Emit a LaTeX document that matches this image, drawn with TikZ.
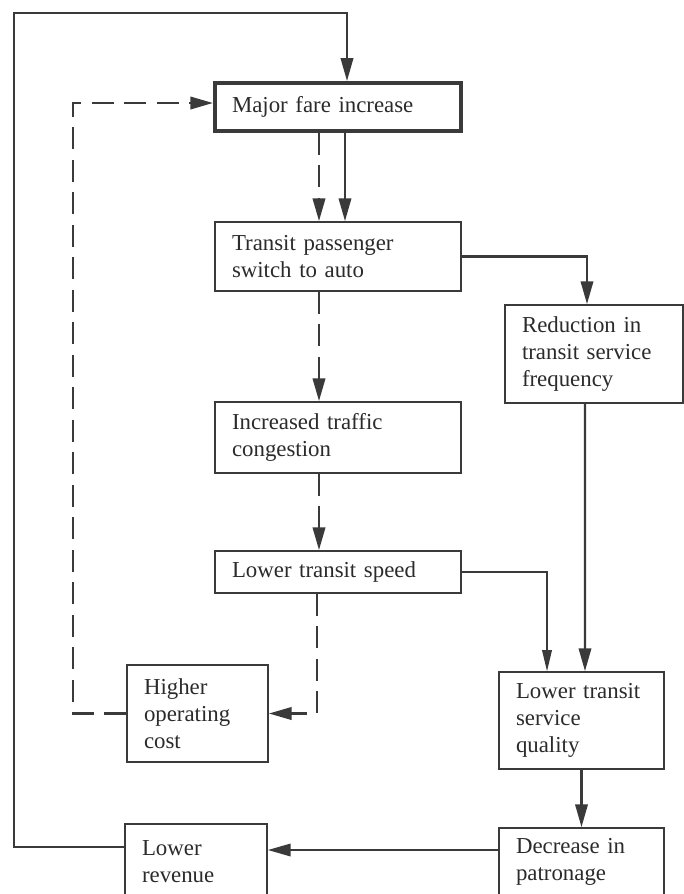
\documentclass[tikz,border=0pt]{standalone}
\usepackage{fontspec}
\setmainfont{Liberation Serif}
\usetikzlibrary{arrows.meta}
\definecolor{LineGray}{HTML}{3A3A3A}
\definecolor{TextGray}{HTML}{2B2B2B}

\begin{document}
\begin{tikzpicture}[x=0.02cm, y=-0.02cm,
    every node/.style={font=\fontsize{13}{15.3}\selectfont, text=TextGray},
    box/.style={draw=LineGray, line width=0.9pt, align=left, inner xsep=0.34cm, inner ysep=0pt},
    solidarr/.style={-{Triangle[length=13pt,width=7pt]}, line width=1.4pt, LineGray},
    thinarr/.style={-{Triangle[length=12pt,width=5.5pt]}, line width=0.8pt, LineGray},
    dasharr/.style={solidarr, line width=1.6pt, dash pattern=on 12.5pt off 6pt}]
    \useasboundingbox (0,0) rectangle (684,894);
    \fill[white] (0,0) rectangle (684,894);

    % Fare increase (top, thick frame)
    \node[box, line width=2.2pt, text width=4.24cm, minimum height=0.96cm] (fare) at (338,107) {Major fare increase};

    % Left column
    \node[box, text width=4.24cm, minimum height=1.38cm] (switch) at (338,256.5) {Transit passenger\\switch to auto};
    \node[box, text width=4.24cm, minimum height=1.42cm] (congest) at (338,437.5) {Increased traffic\\congestion};
    \node[box, text width=4.24cm, minimum height=0.84cm] (speed) at (338,572) {Lower transit speed};
    \node[box, text width=2.14cm, minimum height=1.94cm] (opcost) at (197.5,713.5) {Higher\\operating\\cost};
    \node[box, text width=2.16cm, minimum height=1.52cm] (revenue) at (196,862) {Lower\\revenue};

    % Right column
    \node[box, text width=2.88cm, minimum height=1.96cm] (reduce) at (594,354) {Reduction in\\transit service\\frequency};
    \node[box, text width=2.62cm, minimum height=1.94cm] (quality) at (581.5,720.5) {Lower transit\\service\\quality};
    \node[box, text width=2.62cm, minimum height=1.36cm] (patron) at (581.5,862) {Decrease in\\patronage};

    % Loop corners
    \coordinate (loopL) at (14,13);
    \coordinate (dashL) at (73,400);

    % Solid chain
    \draw[solidarr] ([xshift=0.14cm]fare.south) -- ([xshift=0.14cm]fare.south |- switch.north);
    \draw[solidarr] (switch.east) -| ([xshift=-0.14cm]reduce.north);
    \draw[solidarr] ([xshift=-0.18cm]reduce.south) -- ([xshift=0.07cm]quality.north);
    \draw[thinarr] (speed.east) -| ([xshift=-0.69cm]quality.north);
    \draw[solidarr] (quality.south) -- (patron.north);
    \draw[solidarr] ([yshift=0.24cm]patron.west) -- ([yshift=0.24cm]revenue.east);
    \draw[solidarr] ([yshift=0.3cm]revenue.west) -| (loopL) -| ([xshift=0.18cm]fare.north);

    % Dashed chain
    \draw[dasharr] ([xshift=-0.38cm]fare.south) -- ([xshift=-0.38cm]switch.north);
    \draw[dasharr] ([xshift=-0.38cm]switch.south) -- ([xshift=-0.38cm]congest.north);
    \draw[dasharr] ([xshift=-0.38cm]congest.south) -- ([xshift=-0.38cm]speed.north);
    \draw[dasharr] ([xshift=-0.42cm]speed.south) |- (opcost.east);
    \draw[dasharr] (opcost.west) -| (dashL) |- ([yshift=0.08cm]fare.west);
\end{tikzpicture}
\end{document}
